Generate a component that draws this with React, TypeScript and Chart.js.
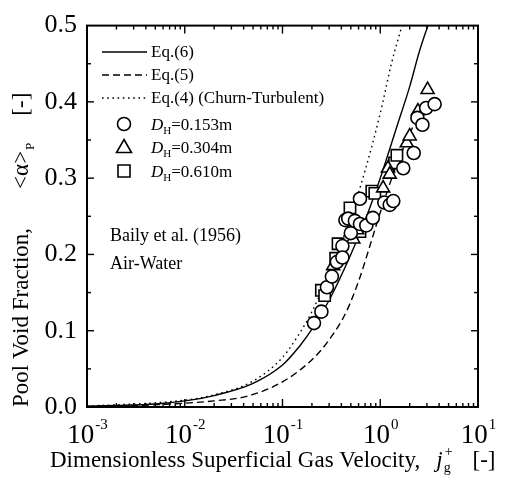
import React, { useEffect, useRef } from 'react';
import { Chart, registerables } from 'chart.js';

Chart.register(...registerables);

// ---- Data ----
const eq6X = [0.001, 0.002, 0.005, 0.01, 0.02, 0.05, 0.1, 0.15, 0.2, 0.3, 0.5, 0.7, 1.0, 1.5, 2.0, 2.5, 3.07];
const eq6Y = [0.001, 0.002, 0.004, 0.008, 0.015, 0.031, 0.055, 0.08, 0.102, 0.14, 0.2, 0.245, 0.3, 0.37, 0.42, 0.465, 0.5];

const eq5X = [0.001, 0.003, 0.01, 0.02, 0.043, 0.1, 0.2, 0.3, 0.45, 0.62, 0.8, 1.0, 1.4, 1.8, 2.4];
const eq5Y = [0.0007, 0.002, 0.005, 0.008, 0.014, 0.033, 0.062, 0.088, 0.125, 0.17, 0.215, 0.255, 0.31, 0.345, 0.38];

const eq4X = [0.001, 0.01, 0.02, 0.05, 0.1, 0.15, 0.2, 0.3, 0.5, 0.7, 1.0, 1.3, 1.67];
const eq4Y = [0.001, 0.009, 0.016, 0.034, 0.065, 0.097, 0.125, 0.175, 0.25, 0.31, 0.385, 0.45, 0.5];

const d153X = [0.21, 0.25, 0.285, 0.32, 0.36, 0.41, 0.41, 0.44, 0.47, 0.5, 0.55, 0.62, 0.62, 0.72, 0.84, 1.1, 1.25, 1.36, 1.72, 2.2, 2.4, 2.7, 2.95, 3.6];
const d153Y = [0.11, 0.125, 0.157, 0.171, 0.19, 0.211, 0.196, 0.245, 0.247, 0.228, 0.244, 0.24, 0.273, 0.238, 0.248, 0.268, 0.265, 0.27, 0.313, 0.333, 0.379, 0.37, 0.392, 0.397];

const d304X = [0.33, 0.53, 0.58, 1.07, 1.2, 1.25, 1.87, 2.0, 2.43, 3.05];
const d304Y = [0.185, 0.22, 0.232, 0.287, 0.313, 0.305, 0.346, 0.355, 0.388, 0.416];

const d610X = [0.25, 0.27, 0.35, 0.37, 0.49, 0.62, 0.82, 0.88, 1.4, 1.48];
const d610Y = [0.153, 0.146, 0.195, 0.214, 0.261, 0.23, 0.283, 0.28, 0.32, 0.33];

const xDecadeExponents = [-3, -2, -1, 0, 1];
const yMin = 0;
const yMax = 0.5;
const yStep = 0.1;

const lineLegend = ['Eq.(6)', 'Eq.(5)', 'Eq.(4) (Churn-Turbulent)'];
const pointLegend = ['=0.153m', '=0.304m', '=0.610m'];
const noteLines = ['Baily et al. (1956)', 'Air-Water'];

const SERIF = '"Liberation Serif", "Times New Roman", Times, serif';

const pts = (xs: number[], ys: number[]) => xs.map((x, i) => ({ x, y: ys[i] }));

type Seg = { t: string; font: string; dy?: number; gap?: number; noAdvance?: boolean };

function drawRich(ctx: CanvasRenderingContext2D, x: number, y: number, segs: Seg[]) {
  let cx = x;
  for (const s of segs) {
    cx += s.gap || 0;
    ctx.font = s.font;
    ctx.fillText(s.t, cx, y + (s.dy || 0));
    if (!s.noAdvance) cx += ctx.measureText(s.t).width;
  }
  return cx;
}

const overlayPlugin = {
  id: 'overlay',
  afterDraw(chart: any) {
    const ctx: CanvasRenderingContext2D = chart.ctx;
    const { left, right, top, bottom } = chart.chartArea;
    const xs = chart.scales.x;
    const ys = chart.scales.y;
    ctx.save();
    ctx.strokeStyle = '#000';
    ctx.fillStyle = '#000';

    // frame
    ctx.lineWidth = 2;
    ctx.strokeRect(left, top, right - left, bottom - top);

    const seg = (x1: number, y1: number, x2: number, y2: number) => {
      ctx.beginPath();
      ctx.moveTo(x1, y1);
      ctx.lineTo(x2, y2);
      ctx.stroke();
    };

    // y ticks (inward, both sides)
    ctx.lineWidth = 1.4;
    for (let i = 1; i < 10; i++) {
      const v = i * 0.05;
      const py = ys.getPixelForValue(v);
      const len = i % 2 === 0 ? 7 : 4;
      seg(left, py, left + len, py);
      seg(right, py, right - len, py);
    }
    // x ticks (log, inward top & bottom)
    for (let e = -3; e <= 0; e++) {
      for (let m = 1; m <= 9; m++) {
        const v = m * Math.pow(10, e);
        if (m === 1 && e === -3) continue;
        const px = xs.getPixelForValue(v);
        const len = m === 1 ? 8 : 4;
        seg(px, bottom, px, bottom - len);
        seg(px, top, px, top + len);
      }
    }

    // x tick labels 10^n
    ctx.textBaseline = 'alphabetic';
    ctx.textAlign = 'left';
    for (const e of xDecadeExponents) {
      const px = xs.getPixelForValue(Math.pow(10, e));
      const base = '10';
      const sup = e < 0 ? '-' + Math.abs(e) : String(e);
      ctx.font = `27px ${SERIF}`;
      const wb = ctx.measureText(base).width;
      ctx.font = `15px ${SERIF}`;
      const ws = ctx.measureText(sup).width;
      const x0 = px - (wb + ws) / 2;
      ctx.font = `27px ${SERIF}`;
      ctx.fillText(base, x0, 443);
      ctx.font = `15px ${SERIF}`;
      ctx.fillText(sup, x0 + wb + 1, 429);
    }

    // x axis title
    drawRich(ctx, 50, 467, [
      { t: 'Dimensionless Superficial Gas Velocity,', font: `23px ${SERIF}` },
      { t: 'j', font: `italic 23px ${SERIF}`, gap: 16 },
      { t: 'g', font: `14px ${SERIF}`, dy: 5, gap: 1, noAdvance: true },
      { t: '+', font: `14px ${SERIF}`, dy: -11, gap: 1 },
      { t: '[-]', font: `23px ${SERIF}`, gap: 20 },
    ]);

    // y axis title (rotated)
    ctx.save();
    ctx.translate(28, 407);
    ctx.rotate(-Math.PI / 2);
    drawRich(ctx, 0, 0, [
      { t: 'Pool Void Fraction,', font: `23px ${SERIF}` },
      { t: '<α>', font: `23px ${SERIF}`, gap: 39 },
      { t: 'P', font: `13px ${SERIF}`, dy: 6, gap: 1 },
      { t: '[-]', font: `23px ${SERIF}`, gap: 27 },
    ]);
    ctx.restore();

    // legend: lines
    const legY = [52, 75, 98];
    const dashes = [[], [7, 4], [1.6, 3.6]];
    ctx.lineWidth = 1.4;
    for (let i = 0; i < 3; i++) {
      ctx.setLineDash(dashes[i]);
      seg(102, legY[i], 147, legY[i]);
    }
    ctx.setLineDash([]);
    ctx.textBaseline = 'middle';
    ctx.font = `17px ${SERIF}`;
    for (let i = 0; i < 3; i++) ctx.fillText(lineLegend[i], 151, legY[i] + 1);

    // legend: markers
    const mkY = [124, 147, 171];
    const mx = 124;
    ctx.lineWidth = 1.6;
    ctx.fillStyle = '#fff';
    ctx.beginPath();
    ctx.arc(mx, mkY[0], 6.5, 0, Math.PI * 2);
    ctx.fill();
    ctx.stroke();
    ctx.beginPath();
    ctx.moveTo(mx, mkY[1] - 7.5);
    ctx.lineTo(mx + 7.5, mkY[1] + 5.5);
    ctx.lineTo(mx - 7.5, mkY[1] + 5.5);
    ctx.closePath();
    ctx.fill();
    ctx.stroke();
    ctx.beginPath();
    ctx.rect(mx - 6, mkY[2] - 6, 12, 12);
    ctx.fill();
    ctx.stroke();
    ctx.fillStyle = '#000';
    ctx.textBaseline = 'alphabetic';
    for (let i = 0; i < 3; i++) {
      drawRich(ctx, 151, mkY[i] + 6, [
        { t: 'D', font: `italic 17px ${SERIF}` },
        { t: 'H', font: `11px ${SERIF}`, dy: 4 },
        { t: pointLegend[i], font: `17px ${SERIF}` },
      ]);
    }

    // annotation
    ctx.font = `18px ${SERIF}`;
    ctx.textBaseline = 'middle';
    ctx.fillText(noteLines[0], 110, 236);
    ctx.fillText(noteLines[1], 110, 264);

    ctx.restore();
  },
};

export default function App() {
  const ref = useRef<HTMLCanvasElement | null>(null);

  useEffect(() => {
    if (!ref.current) return;
    const pointCommon = {
      showLine: false,
      backgroundColor: '#ffffff',
      borderColor: '#000000',
      borderWidth: 1.6,
    };
    const lineCommon = {
      showLine: true,
      pointRadius: 0,
      borderColor: '#000000',
      borderWidth: 1.4,
      fill: false,
      cubicInterpolationMode: 'monotone' as const,
    };
    const chart = new Chart(ref.current, {
      type: 'scatter',
      data: {
        datasets: [
          { ...pointCommon, label: 'DH=0.153m', data: pts(d153X, d153Y), pointStyle: 'circle', pointRadius: 6.5 },
          { ...pointCommon, label: 'DH=0.304m', data: pts(d304X, d304Y), pointStyle: 'triangle', pointRadius: 7.5 },
          { ...pointCommon, label: 'DH=0.610m', data: pts(d610X, d610Y), pointStyle: 'rect', pointRadius: 8 },
          { ...lineCommon, label: 'Eq.(6)', data: pts(eq6X, eq6Y) },
          { ...lineCommon, label: 'Eq.(5)', data: pts(eq5X, eq5Y), borderDash: [7, 4] },
          { ...lineCommon, label: 'Eq.(4)', data: pts(eq4X, eq4Y), borderDash: [1.6, 3.6] },
        ],
      },
      options: {
        animation: false,
        responsive: false,
        maintainAspectRatio: false,
        layout: { padding: { top: 24, right: 38, left: 0, bottom: 0 } },
        plugins: { legend: { display: false }, tooltip: { enabled: false } },
        scales: {
          x: {
            type: 'logarithmic',
            min: 0.001,
            max: 10,
            grid: { display: false, drawTicks: false },
            border: { display: false },
            ticks: { display: false },
            afterFit: (s: any) => {
              s.height = 76;
            },
          },
          y: {
            type: 'linear',
            min: yMin,
            max: yMax,
            grid: { display: false, drawTicks: false },
            border: { display: false },
            ticks: {
              stepSize: yStep,
              color: '#000',
              padding: 10,
              font: { family: SERIF, size: 26 },
              callback: (v: any) => Number(v).toFixed(1),
            },
            afterFit: (s: any) => {
              s.width = 87;
            },
          },
        },
      },
      plugins: [overlayPlugin],
    } as any);
    return () => chart.destroy();
  }, []);

  return (
    <div style={{ position: 'absolute', left: 0, top: 0, width: 516, height: 483, background: '#fff' }}>
      <canvas ref={ref} width={516} height={483} style={{ width: 516, height: 483 }} />
    </div>
  );
}
